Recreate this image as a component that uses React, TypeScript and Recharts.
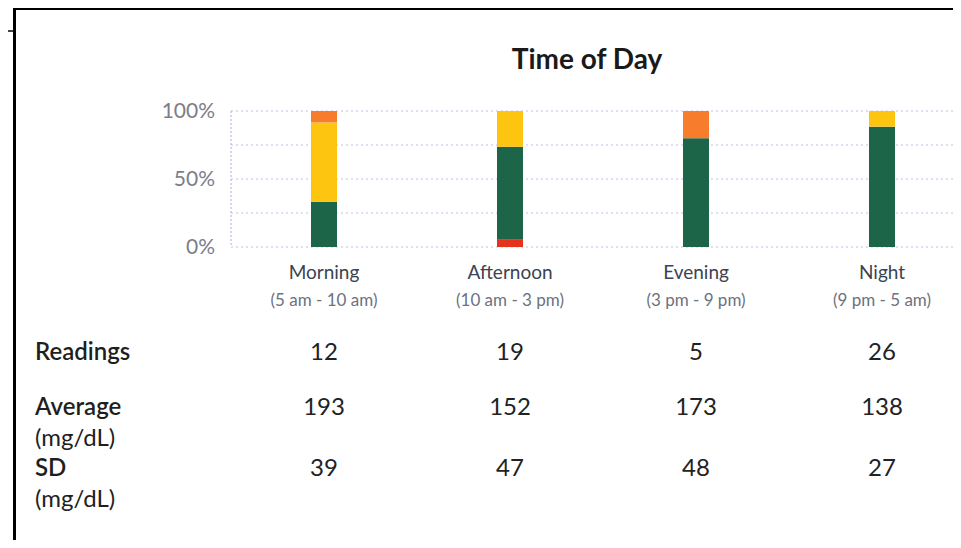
import { BarChart, Bar, XAxis, YAxis, CartesianGrid } from 'recharts';

const periods = ['Morning', 'Afternoon', 'Evening', 'Night'];
const periodHours = ['(5 am - 10 am)', '(10 am - 3 pm)', '(3 pm - 9 pm)', '(9 pm - 5 am)'];

// share of readings per range, in %
const lowPct = [0, 5.3, 0, 0];
const targetPct = [33.3, 68.4, 80, 88.5];
const highPct = [58.3, 26.3, 0, 11.5];
const veryHighPct = [8.4, 0, 20, 0];

const readings = [12, 19, 5, 26];
const averages = [193, 152, 173, 138];
const sds = [39, 47, 48, 27];

const yTicks = [0, 25, 50, 75, 100];

const data = periods.map((p, i) => ({
  period: p,
  low: lowPct[i],
  target: targetPct[i],
  high: highPct[i],
  veryHigh: veryHighPct[i],
}));

const font = 'Lato, "Open Sans", sans-serif';

function PeriodTick(props: any) {
  const { x, y, payload } = props;
  const i = payload.index;
  return (
    <g transform={`translate(${x},${y})`} fontFamily={font} textAnchor="middle">
      <text y={32} fontSize={19} fill="#3b4352">{periods[i]}</text>
      <text y={59} fontSize={17} fill="#6b7280">{periodHours[i]}</text>
      <text y={113} fontSize={24} fill="#222">{readings[i]}</text>
      <text y={168} fontSize={24} fill="#222">{averages[i]}</text>
      <text y={229} fontSize={24} fill="#222">{sds[i]}</text>
    </g>
  );
}

const rowLabel = { position: 'absolute' as const, left: 35, fontSize: 24, lineHeight: '30px', color: '#1f1f1f' };

export default function App() {
  return (
    <div style={{ position: 'relative', margin: -8, width: 961, height: 548, overflow: 'hidden', background: '#fff', fontFamily: font }}>
      <div style={{ position: 'absolute', left: 0, top: 0 }}>
        <BarChart
          width={975}
          height={548}
          data={data}
          margin={{ top: 111, right: 0, bottom: 0, left: 0 }}
          barSize={26}
          style={{ fontFamily: font }}
        >
          <CartesianGrid vertical={false} stroke="#b8c2ea" strokeDasharray="2 3" />
          <XAxis
            dataKey="period"
            height={301}
            axisLine={false}
            tickLine={false}
            tickSize={0}
            tickMargin={0}
            interval={0}
            tick={<PeriodTick />}
          />
          <YAxis
            width={231}
            domain={[0, 100]}
            ticks={yTicks}
            tickFormatter={(v: number) => (v % 50 === 0 ? `${v}%` : '')}
            axisLine={{ stroke: '#a6b0dc', strokeDasharray: '2 2' }}
            tickLine={false}
            tickMargin={10}
            tick={{ fill: '#7a7e8a', fontSize: 21 }}
          />
          <Bar dataKey="low" stackId="a" fill="#e4321f" isAnimationActive={false} />
          <Bar dataKey="target" stackId="a" fill="#1c6549" isAnimationActive={false} />
          <Bar dataKey="high" stackId="a" fill="#fdc510" isAnimationActive={false} />
          <Bar dataKey="veryHigh" stackId="a" fill="#f77d2c" isAnimationActive={false} />
        </BarChart>
      </div>

      <div style={{ position: 'absolute', left: 0, top: 41, width: 961, textAlign: 'center', paddingLeft: 213, boxSizing: 'border-box', fontSize: 28, fontWeight: 700, color: '#1a1a1a', lineHeight: '34px' }}>
        Time of Day
      </div>

      <div style={{ ...rowLabel, top: 336, fontWeight: 600 }}>Readings</div>
      <div style={{ ...rowLabel, top: 391, fontWeight: 600 }}>Average</div>
      <div style={{ ...rowLabel, top: 422 }}>(mg/dL)</div>
      <div style={{ ...rowLabel, top: 452, fontWeight: 600 }}>SD</div>
      <div style={{ ...rowLabel, top: 483 }}>(mg/dL)</div>

      <div style={{ position: 'absolute', left: 13, top: 7, width: 948, height: 3, background: '#000' }} />
      <div style={{ position: 'absolute', left: 13, top: 7, width: 3, height: 541, background: '#000' }} />
      <div style={{ position: 'absolute', left: 0, top: 30, width: 13, height: 2, background: '#444' }} />
      <div style={{ position: 'absolute', left: 258, top: 0, width: 2, height: 7, background: '#dde3f2' }} />
      <div style={{ position: 'absolute', left: 650, top: 0, width: 2, height: 7, background: '#dde3f2' }} />
    </div>
  );
}
